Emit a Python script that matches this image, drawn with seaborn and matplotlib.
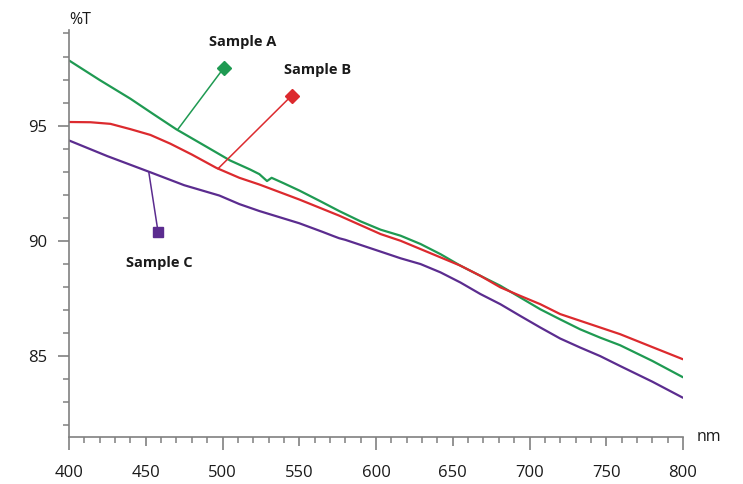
import numpy as np
import pandas as pd
import matplotlib
matplotlib.use("Agg")
import matplotlib.pyplot as plt
import seaborn as sns

# ---- data ----
wl_a = [400, 420, 440, 455, 470, 490, 505, 518, 524, 529, 532, 540, 550, 563, 576, 590, 603, 616, 629,
        642, 655, 668, 681, 694, 707, 720, 733, 746, 759, 780, 800]
t_a = [97.83, 96.98, 96.17, 95.50, 94.84, 94.07, 93.49, 93.10, 92.90, 92.60, 92.74, 92.50, 92.19, 91.75, 91.30,
       90.85, 90.49, 90.23, 89.87, 89.43, 88.93, 88.49, 88.06, 87.55, 87.04, 86.60, 86.17, 85.81, 85.48,
       84.80, 84.09]

wl_b = [400, 414, 427, 440, 453, 466, 480, 496, 511, 524, 550, 576, 603, 616, 629, 642, 655, 668, 681,
        694, 707, 720, 733, 746, 759, 780, 800]
t_b = [95.16, 95.15, 95.08, 94.85, 94.60, 94.22, 93.75, 93.17, 92.74, 92.45, 91.80, 91.10, 90.30, 90.01,
       89.65, 89.29, 88.93, 88.49, 87.99, 87.62, 87.26, 86.83, 86.54, 86.25, 85.96, 85.40, 84.87]

wl_c = [400, 425, 453, 475, 498, 511, 524, 550, 565, 572, 576, 580, 603, 616, 629, 642, 655, 668, 681,
        694, 707, 720, 733, 746, 759, 780, 800]
t_c = [94.36, 93.68, 92.98, 92.42, 91.97, 91.60, 91.30, 90.77, 90.40, 90.22, 90.12, 90.05, 89.54, 89.25,
       89.00, 88.64, 88.20, 87.70, 87.26, 86.75, 86.25, 85.77, 85.38, 85.01, 84.58, 83.90, 83.20]

names = ["Sample A", "Sample B", "Sample C"]
colors = ["#1f9a52", "#dc2a2e", "#5b2c8f"]

# annotation: (curve point x, y), (marker x, y), (label x, y), marker shape
ann_curve = [(471, 94.85), (497, 93.13), (452, 92.98)]
ann_marker = [(501, 97.52), (545, 96.3), (458, 90.4)]
ann_label = [(513, 98.65), (562, 97.4), (459, 89.04)]
ann_shape = ["D", "D", "s"]

xticks = [400, 450, 500, 550, 600, 650, 700, 750, 800]
yticks = [85, 90, 95]

# ---- build table ----
df = pd.concat([
    pd.DataFrame({"nm": wl_a, "T": t_a, "sample": names[0]}),
    pd.DataFrame({"nm": wl_b, "T": t_b, "sample": names[1]}),
    pd.DataFrame({"nm": wl_c, "T": t_c, "sample": names[2]}),
])

sns.set_style("ticks")
plt.rcParams["font.family"] = ["Open Sans", "DejaVu Sans"]

fig = plt.figure(figsize=(7.43, 4.84), dpi=100)
ax = fig.add_axes([69 / 743, 1 - 437 / 484, (683 - 69) / 743, (437 - 30) / 484])

sns.lineplot(data=df, x="nm", y="T", hue="sample", palette=dict(zip(names, colors)),
             linewidth=1.6, legend=False, ax=ax, sort=True)

for c, (p0, p1, pl, shp, name) in zip(colors, zip(ann_curve, ann_marker, ann_label, ann_shape, names)):
    ax.plot([p0[0], p1[0]], [p0[1], p1[1]], color=c, lw=1.1)
    ax.plot([p1[0]], [p1[1]], marker=shp, color=c, ms=7 if shp == "D" else 7.5, mec=c)
    ax.text(pl[0], pl[1], name, ha="center", va="center", fontsize=10.5,
            fontweight="bold", color="#1a1a1a")

ax.set_xlim(400, 800)
ax.set_ylim(81.5, 99.15)
ax.set_xlabel("")
ax.set_ylabel("")

gray = "#808080"
for s in ["top", "right"]:
    ax.spines[s].set_visible(False)
for s in ["left", "bottom"]:
    ax.spines[s].set_color(gray)
    ax.spines[s].set_linewidth(1.2)

ax.set_xticks(xticks)
ax.set_xticklabels([str(v) for v in xticks])
ax.set_xticks(np.arange(400, 801, 10), minor=True)
ax.set_yticks(yticks)
ax.set_yticklabels([str(v) for v in yticks])
ax.set_yticks(np.arange(82, 100, 1), minor=True)

ax.tick_params(axis="x", which="major", length=9.4, width=1.2, color=gray, pad=11,
               labelsize=12, labelcolor="#1a1a1a", direction="out")
ax.tick_params(axis="x", which="minor", length=4.3, width=1.1, color=gray, direction="out")
ax.tick_params(axis="y", which="major", length=7.9, width=1.2, color=gray, pad=7.5,
               labelsize=12, labelcolor="#1a1a1a", direction="out")
ax.tick_params(axis="y", which="minor", length=4.0, width=1.1, color=gray, direction="out")

for v, t in zip(xticks, ax.xaxis.get_major_ticks()):
    if v % 100 != 0:
        t.tick1line.set_markersize(6.5)

ax.text(0.0, 1.005, "%T", transform=ax.transAxes, ha="left", va="bottom",
        fontsize=11.5, color="#1a1a1a")
ax.text(1.0 + 14 / 614, 0.0, "nm", transform=ax.transAxes, ha="left", va="center",
        fontsize=11.5, color="#1a1a1a")

fig.savefig("out.png", dpi=100)
